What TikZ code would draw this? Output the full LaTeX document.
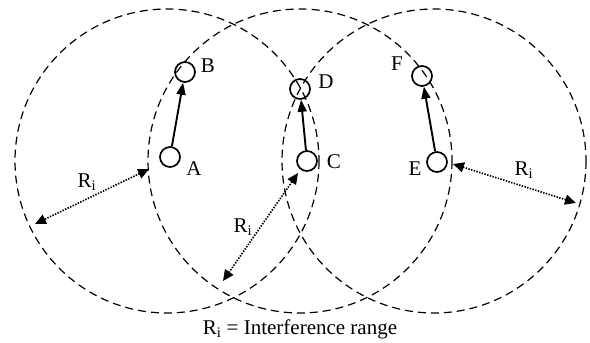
\documentclass[tikz,border=0pt]{standalone}
\usepackage{fontspec}
\setmainfont{Liberation Serif}
\usetikzlibrary{arrows.meta}
\begin{document}
\begin{tikzpicture}[x=1pt,y=-1pt,
  station/.style={circle,draw,line width=1.7pt,minimum size=20pt,inner sep=0pt},
  irange/.style={dash pattern=on 8pt off 5pt,line width=1.2pt},
  txlink/.style={line width=1.9pt,-{Triangle[length=12pt,width=9pt]}},
  rmark/.style={line width=1.7pt,dash pattern=on 1.4pt off 1.4pt,
     {Triangle[length=11pt,width=10pt]}-{Triangle[length=11pt,width=10pt]}},
  lbl/.style={font=\fontsize{21}{24}\selectfont,inner sep=0pt}]
\useasboundingbox (0,0) rectangle (590,343);
% interference ranges
\coordinate (c1) at (167,161);
\coordinate (c2) at (300,161);
\coordinate (c3) at (434,161);
\draw[irange] (c1) circle[radius=152];
\draw[irange] (c2) circle[radius=152];
\draw[irange] (c3) circle[radius=152];
% stations
\node[station] (A) at (170,157) {};
\node[station] (B) at (185,72) {};
\node[station] (C) at (307,161) {};
\node[station] (D) at (300,89) {};
\node[station] (E) at (437,162) {};
\node[station] (F) at (422,76) {};
\node[lbl] (lA) at (194,169) {A};
\node[lbl] (lB) at (208,66) {B};
\node[lbl] (lC) at (334,162) {C};
\node[lbl] (lD) at (326,82) {D};
\node[lbl] (lE) at (415,169) {E};
\node[lbl] (lF) at (397,64) {F};
% transmissions
\draw[txlink] (A) -- (B);
\draw[txlink] (C) -- (D);
\draw[txlink] (E) -- (F);
% radius markers
\coordinate (r1a) at (149,169);
\coordinate (r1b) at (35,224);
\coordinate (r2a) at (298,173);
\coordinate (r2b) at (223,281);
\coordinate (r3a) at (453,164);
\coordinate (r3b) at (576,203);
\draw[rmark] (r1a) -- (r1b);
\draw[rmark] (r2a) -- (r2b);
\draw[rmark] (r3a) -- (r3b);
\node[lbl] (R1) at (87,182) {R\textsubscript{i}};
\node[lbl] (R2) at (243,227) {R\textsubscript{i}};
\node[lbl] (R3) at (524,170) {R\textsubscript{i}};
\node[lbl] (cap) at (300,329) {R\textsubscript{i} = Interference range};
\end{tikzpicture}
\end{document}
